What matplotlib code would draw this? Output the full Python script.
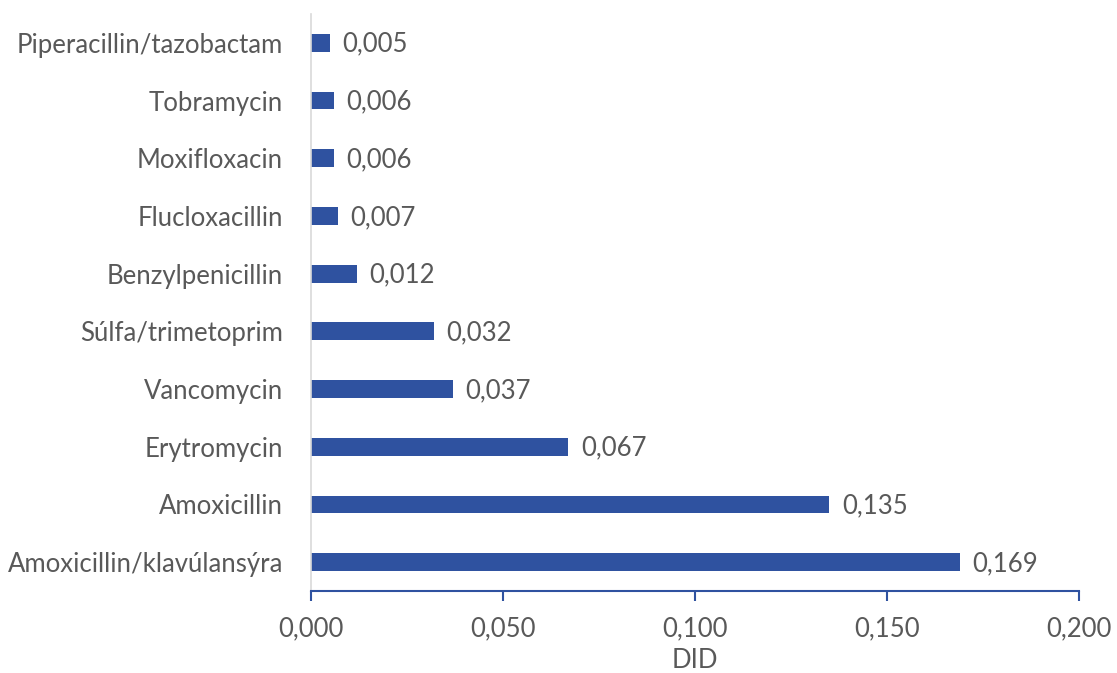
import matplotlib
matplotlib.use("Agg")
import matplotlib.pyplot as plt

categories = ["Amoxicillin/klavúlansýra", "Amoxicillin", "Erytromycin", "Vancomycin",
              "Súlfa/trimetoprim", "Benzylpenicillin", "Flucloxacillin", "Moxifloxacin",
              "Tobramycin", "Piperacillin/tazobactam"]
values = [0.169, 0.135, 0.067, 0.037, 0.032, 0.012, 0.007, 0.006, 0.006, 0.005]
xticks = [0.0, 0.05, 0.1, 0.15, 0.2]
xlabel = "DID"

plt.rcParams['font.family'] = ['Lato', 'DejaVu Sans']
bar_color = "#2F52A0"
text_color = "#595959"
fs = 18.5

fig = plt.figure(figsize=(11.17, 6.73), dpi=100)
ax = fig.add_axes([311/1117, 1-591/673, (1079-311)/1117, (591-14)/673])

y = list(range(len(categories)))
ax.barh(y, values, height=0.31, color=bar_color)
ax.set_ylim(-0.5, len(categories)-0.5)
ax.set_xlim(0, 0.2)
ax.set_yticks(y)
ax.set_yticklabels(categories, fontsize=fs, color=text_color)
ax.set_xticks(xticks)
ax.set_xticklabels([f"{t:.3f}".replace(".", ",") for t in xticks], fontsize=fs, color=text_color)
ax.tick_params(axis='y', length=0, pad=20)
ax.tick_params(axis='x', length=7, width=1.5, color=bar_color, pad=11)
for s in ["top", "right"]:
    ax.spines[s].set_visible(False)
ax.spines["left"].set_color("#D9D9D9")
ax.spines["left"].set_linewidth(1.2)
ax.spines["bottom"].set_color(bar_color)
ax.spines["bottom"].set_linewidth(1.5)

for yi, v in zip(y, values):
    ax.annotate(f"{v:.3f}".replace(".", ","), (v, yi), xytext=(9, -1), textcoords="offset points",
                va="center", ha="left", fontsize=fs, color=text_color)

ax.set_xlabel(xlabel, fontsize=fs, color=text_color, labelpad=5)

fig.savefig("out.png", dpi=100)
